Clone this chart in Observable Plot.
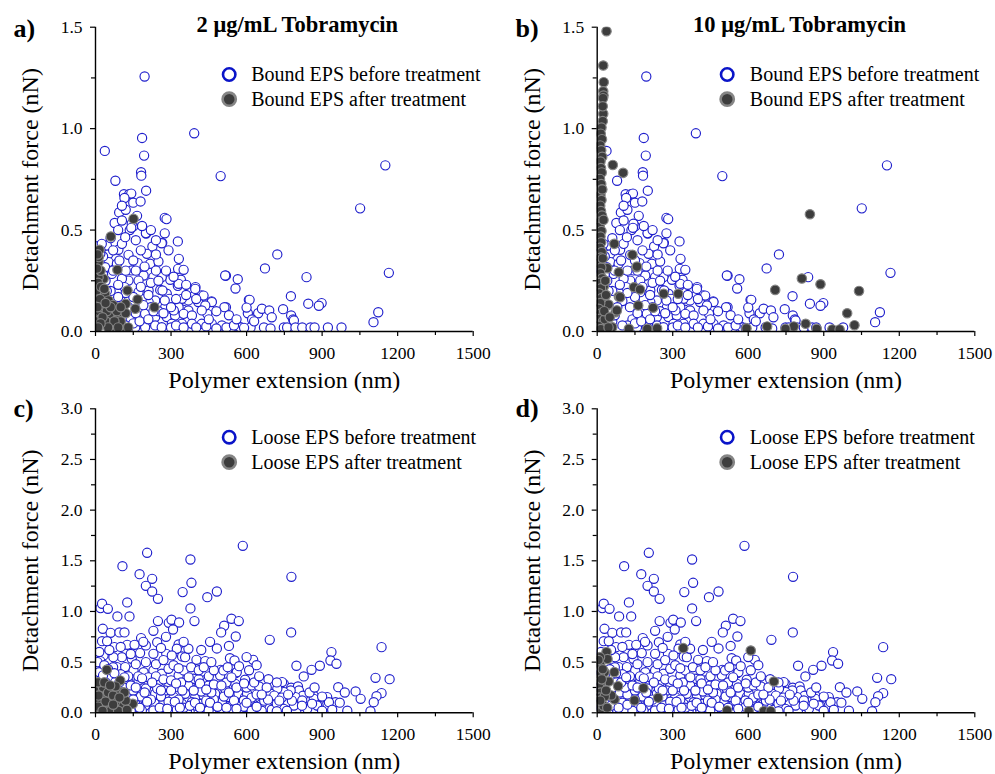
<!DOCTYPE html>
<html><head><meta charset="utf-8">
<script src="https://cdn.jsdelivr.net/npm/d3@7"></script>
<script src="https://cdn.jsdelivr.net/npm/@observablehq/plot@0.6"></script>
<style>
body{margin:0;background:#fff;}
#wrap{position:relative;width:995px;height:774px;overflow:hidden;background:#fff;}
#wrap > svg{position:absolute;overflow:visible;}
</style></head><body><div id="wrap"></div>
<script>
// ---- tick values ----
const xTicks = [0, 300, 600, 900, 1200, 1500];
const xMinor = [150, 450, 750, 1050, 1350];
const yTicksTop = [0, 0.5, 1.0, 1.5];
const yMinorTop = [0.25, 0.75, 1.25];
const yTicksBottom = [0, 0.5, 1.0, 1.5, 2.0, 2.5, 3.0];
const yMinorBottom = [0.25, 0.75, 1.25, 1.75, 2.25, 2.75];

// ---- labels ----
const panelLabels = ["a)", "b)", "c)", "d)"];
const titles = ["2 μg/mL Tobramycin", "10 μg/mL Tobramycin"];
const legendBound = ["Bound EPS before treatment", "Bound EPS after treatment"];
const legendLoose = ["Loose EPS before treatment", "Loose EPS after treatment"];
const xLabel = "Polymer extension (nm)";
const yLabel = "Detachment force (nN)";

// ---- data: [extension nm, force nN] ----
const boundBefore = [
[195,1.257],[37,0.89],[392,0.977],[185,0.954],[193,0.867],[181,0.785],[182,0.768],[79,0.743],[497,0.766],[1151,0.819],[1051,0.607],[1165,0.289],
[201,0.694],[113,0.677],[134,0.677],[142,0.68],[115,0.658],[150,0.635],[179,0.641],[94,0.587],[76,0.535],[136,0.50],[150,0.518],[201,0.483],
[275,0.56],[282,0.554],[275,0.484],[265,0.437],[327,0.444],[331,0.358],[328,0.309],[350,0.304],[339,0.255],[327,0.225],[722,0.38],[673,0.311],
[518,0.275],[565,0.258],[556,0.212],[838,0.268],[776,0.174],[845,0.137],[898,0.14],[887,0.127],[1123,0.095],[1104,0.046],[609,0.156],[605,0.09],
[646,0.09],[661,0.112],[690,0.104],[745,0.11],[777,0.079],[785,0.059],[518,0.12],[461,0.148],[444,0.087],[421,0.178],[397,0.219],[391,0.174],
[408,0.145],[369,0.153],[348,0.107],
[105,0.547],[144,0.531],[142,0.511],[200,0.485],[263,0.435],[226,0.419],[204,0.383],[168,0.337],[131,0.378],[91,0.403],[52,0.383],[45,0.424],
[105,0.432],[118,0.465],[217,0.334],[250,0.345],[330,0.235],[297,0.255],[263,0.268],[230,0.268],[191,0.276],[144,0.301],[171,0.251],[131,0.251],
[105,0.26],[65,0.284],[52,0.342],[85,0.334],[115,0.219],[211,0.202],[257,0.205],[283,0.186],[297,0.153],[343,0.161],[396,0.21],[429,0.177],
[462,0.145],[436,0.128],[422,0.104],[369,0.104],[330,0.12],[277,0.12],[237,0.153],[211,0.145],[184,0.161],[171,0.194],[197,0.087],[237,0.071],
[283,0.071],[316,0.079],[350,0.087],[383,0.079],[303,0.038],[343,0.038],[383,0.038],[422,0.038],[462,0.038],[502,0.03],[541,0.021],[575,0.021],
[515,0.276],[512,0.12],[158,0.021],[197,0.021],[237,0.03],[263,0.021],
[8,0.42],[20,0.40],[30,0.37],[25,0.432],[19,0.383],[38,0.317],[60,0.46],[70,0.40],[40,0.25],[60,0.2],[90,0.23],[100,0.15],[80,0.12],[130,0.12],
[140,0.06],[120,0.03],[60,0.05],[30,0.02],
[612,0.156],[622,0.059],[788,0.054],[576,0.02],[616,0.02],[669,0.02],[695,0.015],[748,0.02],[761,0.02],[794,0.02],[821,0.02],[854,0.02],[870,0.02],
[923,0.02],[977,0.02],
[293,0.161],[266,0.202],[311,0.104],[275,0.153],[300,0.02],[320,0.03],[350,0.02],[400,0.02],[440,0.025],[480,0.015],[520,0.02],[550,0.03],[590,0.018],
[160,0.3],[180,0.22],[220,0.24],[240,0.3],[250,0.1],[220,0.12],[160,0.09],[300,0.12],[360,0.23],[400,0.16],[450,0.06],[480,0.1],[530,0.08],
[560,0.06],[630,0.05],[700,0.07],[600,0.118],
[15,0.3],[30,0.28],[45,0.2],[70,0.3],[95,0.35],[120,0.3],[150,0.35],[180,0.4],[195,0.32],[240,0.38],[290,0.4],[310,0.27],[280,0.3],[250,0.25],
[210,0.18],[190,0.13],[150,0.17],[120,0.19],[90,0.17],[70,0.08],[100,0.03],[150,0.04],[175,0.05],[210,0.06],[230,0.1],[270,0.09],[320,0.16],
[360,0.18],[240,0.45],[160,0.45],[185,0.52],[220,0.5],[120,0.6],[165,0.57],[90,0.5],[105,0.62]
];

const boundAfter2 = [
[151,0.555],[61,0.468],[16,0.403],[87,0.304],[127,0.202],[167,0.158],[158,0.112],[120,0.136],[234,0.12],[38,0.186],[32,0.26],[12,0.342],
[12,0.268],[5,0.202],[25,0.12],[58,0.087],[91,0.071],[111,0.021],[32,0.038],[12,0.071],[65,0.021],[5,0.153],[52,0.153],[13,0.367],[8,0.38],
[20,0.3],[10,0.24],[22,0.22],[15,0.1],[5,0.05],[40,0.05],[30,0.12],[70,0.13],[85,0.1],[100,0.05],[120,0.09],[130,0.02],[45,0.1],[75,0.05],
[6,0.31],[18,0.16],[28,0.07],[50,0.02],[90,0.02],[8,0.12],[20,0.04],[100,0.12],[60,0.12],[40,0.14],[35,0.21],[10,0.02]
];

const boundAfter10 = [
[37,1.48],[24,1.311],[26,1.229],[24,1.184],[25,1.163],[23,1.15],[24,1.073],[22,1.037],[62,0.821],[103,0.782],[68,0.432],[140,0.378],[40,0.312],
[156,0.317],[86,0.292],[146,0.218],[170,0.207],[86,0.172],[163,0.128],[222,0.117],[264,0.186],[322,0.186],[73,0.095],[238,0.016],[126,0.013],
[60,0.021],[199,0.013],[42,0.131],[26,0.222],[845,0.578],[813,0.261],[887,0.233],[707,0.205],[1040,0.2],[993,0.09],[1022,0.031],[828,0.038],
[781,0.025],[872,0.013],[934,0.01],[963,0.01],[675,0.025],[593,0.016],[748,0.013],[91,0.169],[78,0.104],[19,0.079],[45,0.133],[158,0.32],
[17,1.005],[14,0.975],[19,0.948],[12,0.917],[16,0.893],[20,0.861],[13,0.838],[15,0.806],[18,0.784],[11,0.752],[16,0.727],[19,0.701],[13,0.673],
[17,0.648],[12,0.62],[15,0.594],[19,0.571],[14,0.543],[10,0.517],[17,0.495],[13,0.468],[16,0.44],[11,0.413],[18,0.392],[14,0.364],[9,0.338],
[16,0.315],[12,0.287],[20,0.262],[10,0.24],[15,0.213],[8,0.188],[18,0.165],[12,0.14],[6,0.112],[16,0.09],[10,0.062],[22,0.048],[7,0.028],
[14,0.012],[30,0.06],[35,0.18],[32,0.25],[28,0.1],[45,0.02],[50,0.07],[22,1.11],[20,0.7],[25,0.55],[22,0.36]
];

const looseBefore = [
[585,1.648],[205,1.579],[377,1.513],[107,1.447],[778,1.342],[175,1.368],[225,1.322],[381,1.283],[200,1.253],[225,1.197],[346,1.191],[482,1.197],
[444,1.141],[248,1.125],[126,1.089],[20,1.033],[26,1.076],[49,1.026],[377,1.03],[87,0.951],[135,0.951],[248,0.905],[291,0.888],[302,0.918],
[332,0.891],[393,0.905],[540,0.928],[569,0.905],[308,0.822],[511,0.859],[499,0.793],[557,0.753],[692,0.72],[777,0.793],[29,0.829],[60,0.789],
[95,0.793],[115,0.793],[26,0.707],[46,0.707],[75,0.648],[126,0.671],[181,0.737],[155,0.671],[230,0.809],[245,0.697],[330,0.674],[323,0.632],
[482,0.635],[1136,0.648],[230,0.582],[281,0.582],[344,0.556],[401,0.523],[436,0.51],[534,0.539],[552,0.516],[626,0.523],[937,0.599],[933,0.516],
[957,0.484],[891,0.464],[858,0.424],[798,0.464],[827,0.359],[497,0.424],[557,0.391],[687,0.332],[748,0.286],[964,0.253],[1112,0.345],[1168,0.332],
[1136,0.194],[1116,0.164],[1105,0.105],[1092,0.016],[1033,0.211],[1053,0.138],[924,0.122],[953,0.105],[886,0.072],[866,0.171],[833,0.023],
[356,0.549],[303,0.566],[177,0.589],[144,0.533],[105,0.549],[71,0.549],[32,0.566],[19,0.51],[45,0.418],[85,0.451],[118,0.451],[151,0.418],
[191,0.401],[230,0.418],[263,0.385],[290,0.434],[330,0.368],[350,0.418],[389,0.336],[429,0.319],[495,0.368],[508,0.418],[561,0.401],[594,0.326],
[52,0.336],[78,0.303],[131,0.303],[171,0.319],[211,0.286],[250,0.303],[290,0.27],[323,0.253],[369,0.27],[409,0.253],[449,0.27],[482,0.22],
[515,0.237],[555,0.286],[581,0.22],[25,0.22],[58,0.155],[204,0.171],[237,0.188],[277,0.22],[310,0.155],[356,0.188],[396,0.155],[429,0.171],
[475,0.188],[528,0.155],[568,0.188],[594,0.155],[158,0.089],[197,0.072],[237,0.089],[270,0.105],[303,0.072],[343,0.089],[383,0.105],[422,0.089],
[462,0.072],[502,0.105],[541,0.072],[575,0.089],[184,0.023],[230,0.023],[277,0.03],[323,0.03],[363,0.023],[409,0.03],[449,0.023],[495,0.03],
[541,0.03],[581,0.023],[200,0.665],[369,0.632],
[741,0.303],[777,0.247],[804,0.26],[808,0.22],[824,0.168],[794,0.155],[775,0.22],[748,0.204],[722,0.237],[695,0.188],[655,0.22],[629,0.22],
[602,0.188],[589,0.122],[616,0.089],[655,0.138],[708,0.122],[761,0.105],[821,0.122],[867,0.138],[880,0.072],[920,0.155],[927,0.105],[841,0.039],
[788,0.072],[735,0.056],[682,0.056],[636,0.056],[602,0.056],[748,0.039],
[70,0.45],[100,0.38],[130,0.36],[170,0.36],[210,0.35],[240,0.36],[270,0.33],[300,0.32],[340,0.3],[370,0.35],[410,0.33],[450,0.36],[470,0.42],
[520,0.3],[540,0.35],[600,0.25],[620,0.27],[650,0.26],[680,0.25],[710,0.17],[740,0.15],[90,0.2],[120,0.18],[150,0.22],[180,0.16],[220,0.13],
[260,0.16],[290,0.11],[330,0.13],[350,0.05],[400,0.07],[440,0.12],[470,0.13],[510,0.16],[550,0.12],[590,0.06],[620,0.15],[660,0.09],[700,0.03],
[40,0.3],[10,0.15],[15,0.4],[8,0.5],[35,0.47],[60,0.25],[100,0.1],[130,0.05],[60,0.04],[20,0.02],[110,0.25],[200,0.24],[245,0.24],[420,0.21],
[460,0.2],[640,0.18],[670,0.12],[720,0.09],[780,0.12],[860,0.09],[900,0.16],[970,0.1],[820,0.07],[760,0.02],[720,0.015],[660,0.02],[620,0.02],
[900,0.02],[940,0.03],[1000,0.02],
[15,0.05],[45,0.03],[80,0.02],[110,0.03],[140,0.02],[30,0.1],[55,0.07],[85,0.05],[120,0.08],[150,0.13],[175,0.05],[205,0.11],[255,0.05],
[285,0.04],[315,0.11],[335,0.05],[375,0.07],[395,0.1],[415,0.05],[455,0.1],[485,0.06],[520,0.05],[560,0.04],[600,0.1],[640,0.06],[685,0.13],
[730,0.12],[12,0.26],[30,0.37],[50,0.43],[75,0.39],[95,0.3],[115,0.35],[140,0.27],[160,0.25],[185,0.34],[195,0.2],[225,0.3],[260,0.22],
[300,0.22],[320,0.29],[345,0.22],[390,0.22],[415,0.29],[440,0.23],[470,0.28],[500,0.27],[530,0.2],[560,0.25],[590,0.29],[630,0.3],[660,0.18],
[15,0.6],[55,0.62],[100,0.65],[140,0.58],[160,0.48],[200,0.5],[240,0.48],[270,0.52],[310,0.47],[330,0.44],[380,0.45],[410,0.42],[430,0.45],
[460,0.5],[525,0.45],[570,0.46],[610,0.42],[650,0.36],[720,0.3],[190,0.7],[260,0.64],[280,0.75],[350,0.7],[420,0.62],[455,0.7],[530,0.66],
[600,0.55],[640,0.47],[765,0.18],[850,0.2],[870,0.25],[990,0.2]
];

const looseAfter2 = [
[45,0.424],[98,0.319],[148,0.089],[105,0.204],[25,0.237],[52,0.22],[78,0.188],[25,0.155],[65,0.138],[105,0.138],[19,0.089],[52,0.089],[91,0.089],
[32,0.039],[71,0.039],[105,0.039],[5,0.039],[5,0.22],[30,0.25],[50,0.2],[70,0.17],[85,0.1],[110,0.06],[120,0.12],[15,0.12],[40,0.06],[60,0.02],
[90,0.02],[115,0.2],[10,0.3],[35,0.3],[80,0.26],[12,0.17],[40,0.11],[95,0.15],[70,0.08],[10,0.06],[125,0.03],[28,0.02],[58,0.27]
];

const looseAfter10 = [
[37,0.599],[41,0.53],[11,0.549],[29,0.401],[68,0.401],[46,0.309],[83,0.263],[184,0.243],[342,0.638],[610,0.615],[702,0.309],[242,0.148],
[148,0.122],[69,0.132],[56,0.171],[516,0.023],[602,0.016],[662,0.016],[689,0.016],[12,0.47],[10,0.38],[14,0.3],[8,0.25],[13,0.2],[9,0.15],
[15,0.1],[10,0.05],[20,0.02],[25,0.07],[30,0.16],[22,0.43],[18,0.33],[35,0.22],[40,0.05],[12,0.12],[5,0.52]
];

// ---- styling ----
const BLUE = "#2020cc";
const LEG_BLUE = "#0a14c8";
const DARK = "#3d3d3d";
const GREY = "#858585";
const FONT = "'Liberation Serif', 'Times New Roman', serif";

function panel(o) {
  const chart = Plot.plot({
    width: o.width, height: o.height,
    marginLeft: o.ml, marginRight: o.mr, marginTop: o.mt, marginBottom: o.mb,
    style: {fontFamily: FONT, background: "none", color: "black", overflow: "visible"},
    x: {domain: [0, 1500]},
    y: {domain: [0, o.yMax]},
    marks: [
      Plot.axisX({ticks: xTicks, tickSize: 5, tickPadding: 10, fontSize: 17.5, fontFamily: FONT, tickFormat: d => String(d), label: null, strokeWidth: 1.2}),
      Plot.axisX({ticks: xMinor, tickSize: 4, tickFormat: () => "", label: null, strokeWidth: 1.2}),
      Plot.axisY({ticks: o.yTicks, tickSize: 5, tickPadding: 8, fontSize: 17.5, fontFamily: FONT, tickFormat: d3.format(".1f"), label: null, strokeWidth: 1.2}),
      Plot.axisY({ticks: o.yMinor, tickSize: 4, tickFormat: () => "", label: null, strokeWidth: 1.2}),
      Plot.dot(o.before, {x: d => d[0], y: d => d[1], r: 4.6, stroke: BLUE, strokeWidth: 1.15, fill: "white", clip: true}),
      Plot.dot(o.after, {x: d => d[0], y: d => d[1], r: 4.7, stroke: GREY, strokeWidth: 1.2, fill: DARK, clip: true}),
      Plot.ruleX([0], {stroke: "black", strokeWidth: 1.4}),
      Plot.ruleY([0], {stroke: "black", strokeWidth: 1.4}),
      // panel label
      Plot.text([o.label], {text: d => d, frameAnchor: "top-left", dx: o.labDx, dy: o.labDy, textAnchor: "start", lineAnchor: "bottom", fontSize: 26, fontWeight: "bold"}),
      // title
      ...(o.title ? [Plot.text([o.title], {text: d => d, frameAnchor: "top", dx: o.titleDx, dy: 5, textAnchor: "middle", lineAnchor: "bottom", fontSize: 22.5, fontWeight: "bold"})] : []),
      // axis labels
      Plot.text([xLabel], {text: d => d, frameAnchor: "bottom", dy: 48.5, textAnchor: "middle", lineAnchor: "middle", fontSize: 24}),
      Plot.text([yLabel], {text: d => d, frameAnchor: "left", dx: -65, rotate: -90, textAnchor: "middle", lineAnchor: "middle", fontSize: 24}),
      // legend
      Plot.dot([o.legend[0]], {frameAnchor: "top-left", dx: o.legDx, dy: o.legDy1, r: 6.2, stroke: LEG_BLUE, strokeWidth: 2.6, fill: "white"}),
      Plot.dot([o.legend[1]], {frameAnchor: "top-left", dx: o.legDx, dy: o.legDy2, r: 6.6, stroke: GREY, strokeWidth: 2.6, fill: DARK}),
      Plot.text([o.legend[0]], {text: d => d, frameAnchor: "top-left", dx: o.legTx, dy: o.legDy1, textAnchor: "start", lineAnchor: "middle", fontSize: 20}),
      Plot.text([o.legend[1]], {text: d => d, frameAnchor: "top-left", dx: o.legTx, dy: o.legDy2, textAnchor: "start", lineAnchor: "middle", fontSize: 20})
    ]
  });
  chart.style.left = o.left + "px";
  chart.style.top = o.top + "px";
  document.getElementById("wrap").appendChild(chart);
}

panel({left: 0, top: 387, width: 497, height: 387, ml: 95, mr: 24.3, mt: 21.3, mb: 61.7,
  yMax: 3.0, yTicks: yTicksBottom, yMinor: yMinorBottom, before: looseBefore, after: looseAfter2,
  label: panelLabels[2], labDx: -82, labDy: 8.4, title: null,
  legend: legendLoose, legDx: 133.7, legTx: 155.7, legDy1: 28.4, legDy2: 53.4});

panel({left: 500, top: 387, width: 495, height: 387, ml: 96.7, mr: 20.7, mt: 21.3, mb: 61.7,
  yMax: 3.0, yTicks: yTicksBottom, yMinor: yMinorBottom, before: looseBefore, after: looseAfter10,
  label: panelLabels[3], labDx: -81.7, labDy: 8.4, title: null,
  legend: legendLoose, legDx: 130, legTx: 152.6, legDy1: 28.4, legDy2: 53.4});

panel({left: 0, top: 0, width: 497, height: 387, ml: 95, mr: 24.3, mt: 26.7, mb: 56,
  yMax: 1.5, yTicks: yTicksTop, yMinor: yMinorTop, before: boundBefore, after: boundAfter2,
  label: panelLabels[0], labDx: -82, labDy: 9.5, title: titles[0], titleDx: 13,
  legend: legendBound, legDx: 133.7, legTx: 155.7, legDy1: 47.3, legDy2: 72});

panel({left: 500, top: 0, width: 495, height: 387, ml: 96.7, mr: 20.7, mt: 26.7, mb: 56,
  yMax: 1.5, yTicks: yTicksTop, yMinor: yMinorTop, before: boundBefore, after: boundAfter10,
  label: panelLabels[1], labDx: -81.7, labDy: 9.5, title: titles[1], titleDx: 13.5,
  legend: legendBound, legDx: 130, legTx: 152.6, legDy1: 47.3, legDy2: 72});
</script>
</body></html>
